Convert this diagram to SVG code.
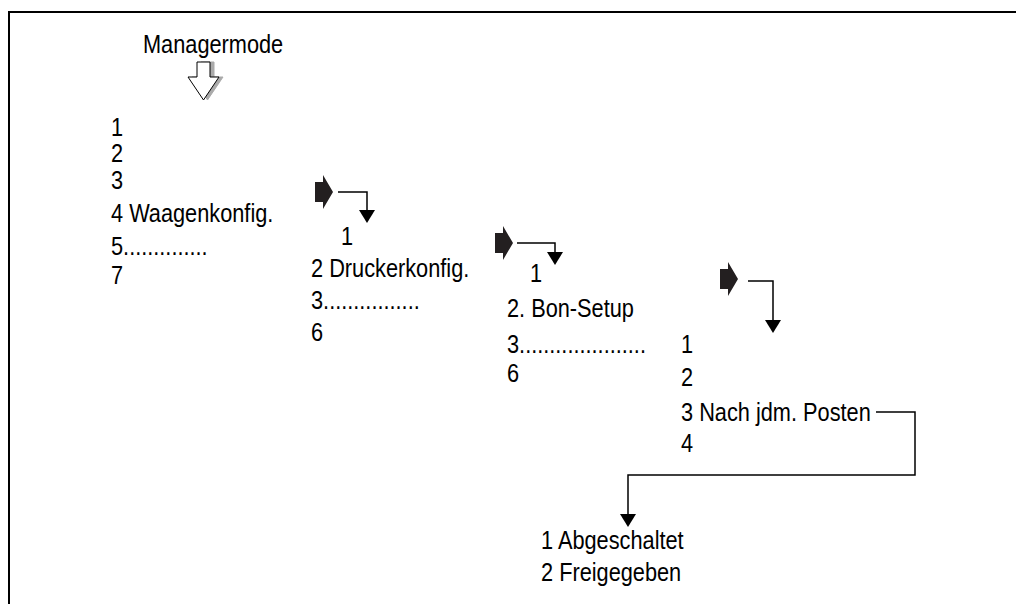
<svg xmlns="http://www.w3.org/2000/svg" width="1016" height="604" viewBox="0 0 1016 604">
<style>
text{font-family:"Liberation Sans",Arial,sans-serif;font-size:25px;fill:#000}
.ln{fill:none;stroke:#000;stroke-width:1.5}
.blk{fill:#231f20}
.tri{fill:#000}
</style>
<defs>
<path id="barrow" d="M0,-10 H8 V-17 L18,0 L8,17 V10 H0 Z"/>
<path id="harrow" d="M0,0 H13 V15 H22 L6.5,38 L-9,15 H0 Z"/>
</defs>
<rect width="1016" height="604" fill="#fff"/>
<path d="M9,604 V12 H1016" fill="none" stroke="#000" stroke-width="2"/>

<g id="managermode">
<text transform="translate(143,53) scale(0.87,1)">Managermode</text>
<use href="#harrow" x="201" y="62" fill="#aaa" stroke="#aaa" stroke-width="1"/>
<use href="#harrow" x="197" y="62" fill="#fff" stroke="#000" stroke-width="1"/>
</g>

<g id="menu1">
<text transform="translate(111,136) scale(0.87,1)">1</text>
<text transform="translate(111,162) scale(0.87,1)">2</text>
<text transform="translate(111,189) scale(0.87,1)">3</text>
<text transform="translate(111,222) scale(0.87,1)">4 Waagenkonfig.</text>
<text transform="translate(111,255) scale(0.87,1)">5..............</text>
<text transform="translate(111,284) scale(0.87,1)">7</text>
</g>

<g id="menu2">
<use href="#barrow" class="blk" x="315" y="192"/>
<text transform="translate(341,245) scale(0.87,1)">1</text>
<text transform="translate(311,277) scale(0.87,1)">2 Druckerkonfig.</text>
<text transform="translate(311,309) scale(0.87,1)">3................</text>
<text transform="translate(311,341) scale(0.87,1)">6</text>
</g>

<g id="menu3">
<use href="#barrow" class="blk" x="495" y="243"/>
<text transform="translate(530,282) scale(0.87,1)">1</text>
<text transform="translate(507,317) scale(0.87,1)">2. Bon-Setup</text>
<text transform="translate(507,353) scale(0.87,1)">3.....................</text>
<text transform="translate(507,382) scale(0.87,1)">6</text>
</g>

<g id="menu4">
<use href="#barrow" class="blk" x="720" y="279"/>
<text transform="translate(681,353) scale(0.87,1)">1</text>
<text transform="translate(681,386) scale(0.87,1)">2</text>
<text transform="translate(681,421) scale(0.87,1)">3 Nach jdm. Posten</text>
<text transform="translate(681,452) scale(0.87,1)">4</text>
</g>

<g id="menu5">
<text transform="translate(541,549) scale(0.87,1)">1 Abgeschaltet</text>
<text transform="translate(541,581) scale(0.87,1)">2 Freigegeben</text>
</g>

<g id="connectors">
<path class="ln" d="M338,192 H367 V211"/>
<path class="tri" d="M359,210 H375 L367,223 Z"/>
<path class="ln" d="M517,243 H555 V253"/>
<path class="tri" d="M547,252 H563 L555,265 Z"/>
<path class="ln" d="M748,281 H773 V321"/>
<path class="tri" d="M765,320 H781 L773,333 Z"/>
<path class="ln" d="M876,412 H915 V475 H628 V515"/>
<path class="tri" d="M620,514 H636 L628,527 Z"/>
</g>
</svg>
